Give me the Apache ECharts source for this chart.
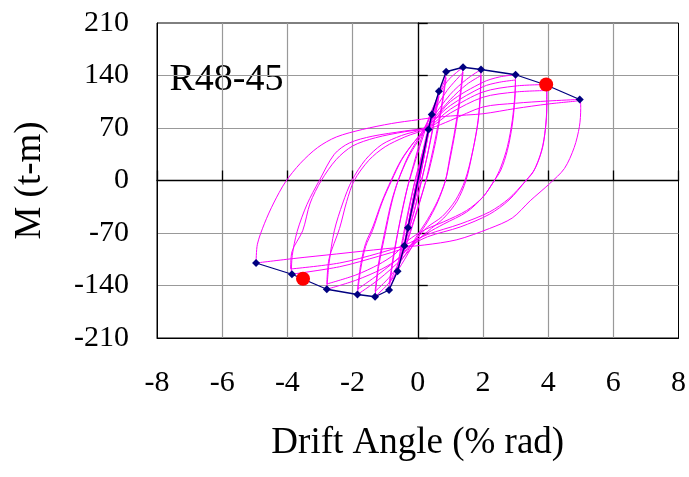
<!DOCTYPE html>
<html>
<head>
<meta charset="utf-8">
<script src="https://cdn.jsdelivr.net/npm/echarts@6/dist/echarts.min.js"></script>
<style>
    html, body { margin: 0; padding: 0; background: #fff; }
    #chart { width: 689px; height: 477px; }
</style>
</head>
<body>
<div id="chart"></div>
<script>
// hysteresis path, drift angle (% rad) vs M (t-m), split by amplitude
const amp033 = [[0,0],[0.17,35],[0.33,68],[0.18,30],[0.02,-5],[-0.15,-32],[-0.30,-63],[-0.15,-28],[0.02,8],[0.17,37],[0.33,64],[0.17,28],[0.0,-6],[-0.15,-30],[-0.30,-60],[-0.14,-24],[0.04,10]];
const amp043 = [[0.2,48],[0.43,88],[0.25,45],[0.05,0],[-0.15,-38],[-0.41,-87],[-0.22,-42],[-0.03,0],[0.18,38],[0.43,84],[0.24,42],[0.04,-2],[-0.16,-38],[-0.41,-83],[-0.2,-38],[0.0,5]];
const amp065 = [[0.3,60],[0.65,119],[0.5,80],[0.3,35],[0.12,0],[-0.1,-40],[-0.35,-78],[-0.62,-121],[-0.45,-80],[-0.25,-35],[-0.08,0],[0.15,38],[0.4,76],[0.65,112],[0.48,72],[0.28,30],[0.1,-2],[-0.12,-42],[-0.38,-80],[-0.62,-114],[-0.44,-72],[-0.24,-30],[-0.06,4]];
const amp087 = [[0.2,45],[0.5,95],[0.87,145],[0.75,105],[0.55,58],[0.35,18],[0.22,-5],[-0.05,-45],[-0.4,-92],[-0.88,-146],[-0.75,-105],[-0.55,-55],[-0.35,-15],[-0.2,8],[0.1,50],[0.45,95],[0.87,137],[0.74,98],[0.55,52],[0.35,14],[0.2,-8],[-0.1,-50],[-0.45,-95],[-0.88,-138],[-0.74,-98],[-0.52,-50],[-0.32,-10],[-0.2,10]];
const amp14 = [[0.1,55],[0.5,100],[0.9,132],[1.39,151],[1.3,115],[1.15,70],[0.98,30],[0.85,0],[0.6,-30],[0.3,-55],[0.0,-75],[-0.4,-105],[-0.85,-135],[-1.31,-155],[-1.2,-115],[-0.98,-67],[-0.8,-30],[-0.6,0],[-0.3,32],[0.0,55],[0.4,85],[0.9,120],[1.39,144],[1.3,108],[1.15,65],[0.98,26],[0.85,0],[0.6,-28],[0.3,-52],[0,-72],[-0.4,-100],[-0.85,-128],[-1.31,-148],[-1.2,-110],[-0.98,-62],[-0.8,-27],[-0.6,0],[-0.3,30],[0,52]];
const amp2 = [[0.4,80],[1.0,115],[1.5,135],[1.94,148],[1.92,118],[1.85,80],[1.7,42],[1.48,0],[1.2,-28],[0.8,-50],[0.3,-68],[0,-80],[-0.5,-105],[-1.2,-132],[-1.85,-152],[-1.75,-118],[-1.6,-88],[-1.39,-67],[-1.1,-30],[-0.8,0],[-0.5,27],[-0.1,52],[0.4,78],[1.0,108],[1.5,128],[1.94,140],[1.92,110],[1.84,75],[1.68,38],[1.45,0],[1.15,-27],[0.75,-48],[0.3,-62],[0,-76],[-0.5,-100],[-1.2,-125],[-1.85,-145],[-1.75,-112],[-1.6,-84],[-1.38,-62],[-1.1,-28],[-0.82,0],[-0.5,28],[-0.1,52]];
const amp3 = [[0.4,74],[1.0,105],[2.0,131],[2.5,138],[3.0,141],[2.98,115],[2.9,80],[2.75,45],[2.55,18],[2.35,0],[2.0,-22],[1.5,-42],[0.8,-58],[0.3,-70],[-0.2,-85],[-0.6,-104],[-1.1,-118],[-1.9,-133],[-2.79,-145],[-2.72,-110],[-2.56,-67],[-2.3,-30],[-2.02,0],[-1.6,28],[-1.1,48],[-0.5,60],[0.2,70],[1.0,100],[2.0,125],[2.5,131],[3.0,134],[2.98,108],[2.9,74],[2.75,40],[2.55,14],[2.32,-2],[2.0,-22],[1.5,-40],[0.8,-55],[0.2,-66],[-0.3,-80],[-0.7,-98],[-1.2,-112],[-1.9,-126],[-2.79,-138],[-2.72,-104],[-2.4,-64],[-2.18,-28],[-1.95,0],[-1.5,27],[-1.0,45],[-0.4,58],[0.3,70]];
const amp4 = [[1.0,95],[2.0,118],[3.0,126],[3.96,128],[3.96,105],[3.93,75],[3.83,44],[3.6,16],[3.32,0],[2.8,-26],[2.2,-45],[1.3,-62],[0.3,-75],[-0.4,-90],[-1.2,-101],[-2.4,-115],[-3.88,-125],[-3.85,-100],[-3.7,-68],[-3.4,-32],[-3.02,0],[-2.56,35],[-2.1,50],[-1.4,59],[-0.4,66],[0.4,72],[1.0,90],[2.0,111],[3.0,118],[3.96,120],[3.96,98],[3.92,70],[3.8,40],[3.55,12],[3.28,-2],[2.8,-24],[2.2,-42],[1.3,-58],[0.3,-72],[-0.4,-86],[-1.2,-97],[-2.4,-110],[-3.9,-118],[-3.86,-95],[-3.53,-67],[-3.3,-30],[-2.96,0],[-2.5,28],[-2.0,46],[-1.3,57],[-0.4,65],[0.4,70]];
const amp5 = [[1.0,80],[2.0,98],[3.0,103],[4.0,106],[4.97,108],[5.0,96],[4.96,72],[4.8,44],[4.5,16],[4.05,-4],[3.45,-27],[2.9,-50],[2.2,-64],[1.2,-79],[0.2,-86],[-1.0,-91],[-2.5,-98],[-3.8,-104],[-4.96,-110],[-4.92,-85],[-4.7,-57],[-4.42,-30],[-4.06,-2],[-3.6,23],[-3.07,44],[-2.5,58],[-1.7,68],[-0.8,76],[0,81],[0.5,84],[1.0,86],[2.0,89],[3.0,96],[4.0,102],[4.9,106]];

const envelope = [[-4.96,-110],[-3.86,-125],[-2.79,-145],[-1.85,-152],[-1.31,-155],[-0.88,-146],[-0.62,-121],[-0.41,-87],[-0.30,-63],[0.33,68],[0.43,88],[0.65,119],[0.87,145],[1.39,151],[1.94,148],[3.0,141],[3.96,127],[4.97,108]];
const redPts = [[3.94,128],[-3.52,-131]];

const xTicks = { min: -8, max: 8, interval: 2 };
const yTicks = { min: -210, max: 210, interval: 70 };

const loopPath = [].concat(amp033, amp043, amp065, amp087, amp14, amp2, amp3, amp4, amp5);

const serif = 'Liberation Serif, Times New Roman, serif';
const gridGray = '#999999';

const chart = echarts.init(document.getElementById('chart'));
chart.setOption({
    animation: false,
    grid: {
        left: 157, right: 9, top: 23, bottom: 139,
        show: true, borderColor: '#000', borderWidth: 1, backgroundColor: 'transparent'
    },
    xAxis: [
        {
            type: 'value', min: xTicks.min, max: xTicks.max, interval: xTicks.interval,
            position: 'bottom',
            axisLine: { show: true, onZero: false, lineStyle: { color: '#000', width: 1 } },
            axisTick: { show: false },
            splitLine: { show: true, showMinLine: false, showMaxLine: false, lineStyle: { color: gridGray, width: 1.2 } },
            axisLabel: { fontFamily: serif, fontSize: 30, color: '#000', margin: 30 },
            name: 'Drift Angle (% rad)', nameLocation: 'middle', nameGap: 87,
            nameTextStyle: { fontFamily: serif, fontSize: 37, color: '#000' }
        },
        {
            type: 'value', min: xTicks.min, max: xTicks.max, interval: xTicks.interval,
            position: 'bottom',
            axisLine: { show: true, onZero: true, onZeroAxisIndex: 0, lineStyle: { color: '#000', width: 1.3 } },
            axisTick: { show: true, inside: true, length: 10, lineStyle: { color: '#000', width: 1.3 } },
            axisLabel: { show: false },
            splitLine: { show: false }
        }
    ],
    yAxis: [
        {
            type: 'value', min: yTicks.min, max: yTicks.max, interval: yTicks.interval,
            position: 'left',
            axisLine: { show: true, onZero: false, lineStyle: { color: '#000', width: 1 } },
            axisTick: { show: false },
            splitLine: { show: true, showMinLine: false, showMaxLine: false, lineStyle: { color: gridGray, width: 1.2 } },
            axisLabel: { fontFamily: serif, fontSize: 30, color: '#000', margin: 28 },
            name: 'M (t-m)', nameLocation: 'middle', nameGap: 108,
            nameTextStyle: { fontFamily: serif, fontSize: 37, color: '#000' }
        },
        {
            type: 'value', min: yTicks.min, max: yTicks.max, interval: yTicks.interval,
            position: 'left',
            axisLine: { show: true, onZero: true, onZeroAxisIndex: 0, lineStyle: { color: '#000', width: 1.3 } },
            axisTick: { show: true, inside: true, length: 10, lineStyle: { color: '#000', width: 1.3 } },
            axisLabel: { show: false },
            splitLine: { show: false }
        }
    ],
    graphic: [
        {
            type: 'group', left: 168, top: 57,
            children: [
                { type: 'rect', shape: { x: 0, y: 0, width: 117, height: 46 }, style: { fill: '#fff' } },
                {
                    type: 'text', x: 58.5, y: 23,
                    style: { text: 'R48-45', font: '38px ' + serif, fill: '#000', align: 'center', verticalAlign: 'middle' }
                }
            ]
        }
    ],
    series: [
        {
            type: 'line', data: loopPath, showSymbol: false, smooth: 0.3,
            lineStyle: { color: '#ff00ff', width: 1 }, z: 3
        },
        {
            type: 'line', data: envelope, symbol: 'diamond', symbolSize: 8,
            itemStyle: { color: '#000080' }, lineStyle: { color: '#000080', width: 1.3 }, z: 4
        },
        {
            type: 'scatter', data: redPts, symbol: 'circle', symbolSize: 14,
            itemStyle: { color: '#ff0000', opacity: 1 }, z: 5
        }
    ]
});
</script>
</body>
</html>
